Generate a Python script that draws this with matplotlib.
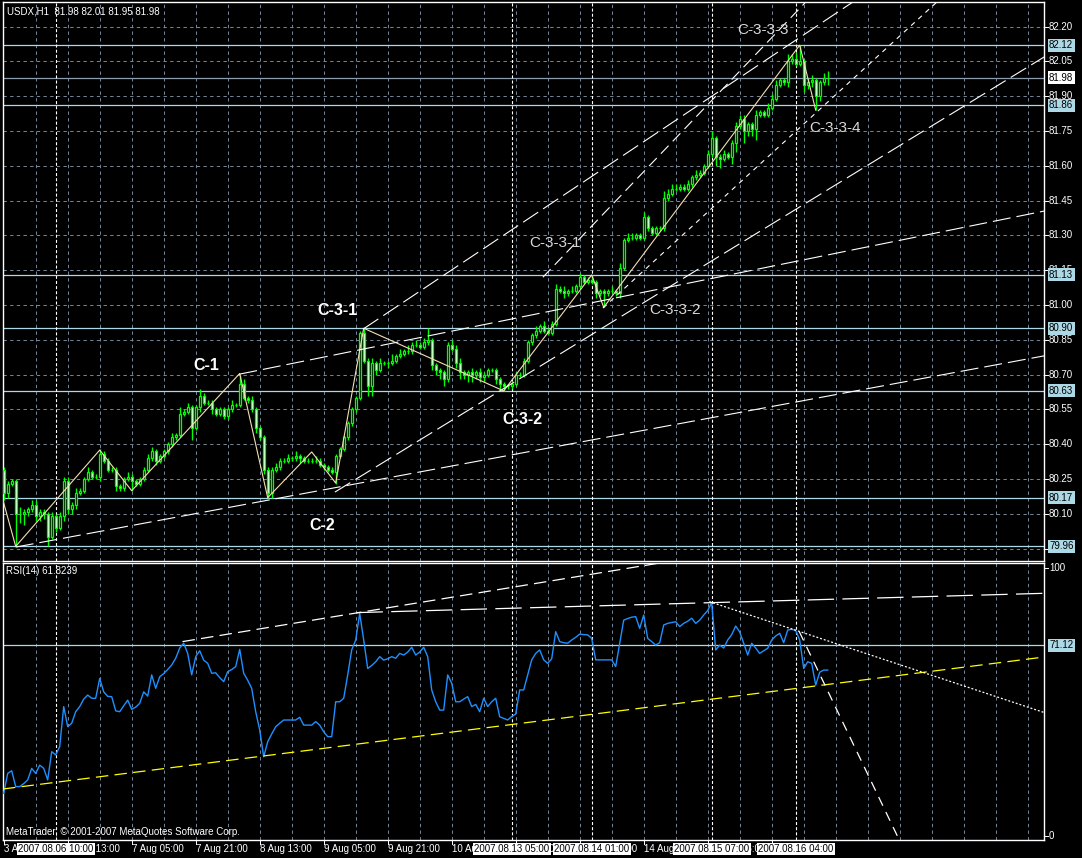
import numpy as np
import matplotlib.pyplot as plt

plt.rcParams['font.family'] = ['Liberation Sans', 'DejaVu Sans']
plt.rcParams['lines.scale_dashes'] = False

# ---------------- data ----------------
first_open = 80.29
closes = [
    80.19, 80.23, 80.24, 80.10, 80.10, 80.11, 80.12, 80.14, 80.09, 80.11,
    80.10, 80.00, 80.09, 80.04, 80.09, 80.24, 80.12, 80.14, 80.19, 80.20,
    80.25, 80.28, 80.26, 80.26, 80.36, 80.33, 80.29, 80.29, 80.22, 80.21,
    80.25, 80.26, 80.24, 80.23, 80.25, 80.29, 80.34, 80.37, 80.33, 80.35,
    80.37, 80.40, 80.43, 80.44, 80.53, 80.54, 80.56, 80.47, 80.56, 80.61,
    80.58, 80.58, 80.55, 80.53, 80.55, 80.52, 80.55, 80.57, 80.57, 80.66,
    80.60, 80.59, 80.55, 80.47, 80.43, 80.29, 80.19, 80.29, 80.30, 80.33,
    80.33, 80.34, 80.34, 80.35, 80.34, 80.33, 80.33, 80.33, 80.33, 80.31,
    80.30, 80.29, 80.28, 80.35, 80.38, 80.43, 80.49, 80.55, 80.60, 80.88,
    80.76, 80.65, 80.75, 80.72, 80.75, 80.75, 80.75, 80.76, 80.78, 80.79,
    80.80, 80.80, 80.83, 80.83, 80.82, 80.84, 80.85, 80.74, 80.72, 80.71,
    80.68, 80.83, 80.81, 80.75, 80.71, 80.70, 80.71, 80.70, 80.71, 80.69,
    80.70, 80.72, 80.72, 80.68, 80.66, 80.65, 80.65, 80.66, 80.70, 80.70,
    80.76, 80.84, 80.87, 80.89, 80.91, 80.89, 80.88, 80.92, 81.07, 81.06,
    81.05, 81.06, 81.06, 81.08, 81.12, 81.10, 81.11, 81.10, 81.05, 81.06,
    81.05, 81.06, 81.06, 81.05, 81.16, 81.28, 81.29, 81.29, 81.30, 81.29,
    81.38, 81.33, 81.31, 81.33, 81.33, 81.46, 81.48, 81.50, 81.50, 81.51,
    81.50, 81.52, 81.55, 81.56, 81.57, 81.60, 81.65, 81.72, 81.64, 81.63,
    81.65, 81.64, 81.70, 81.77, 81.80, 81.75, 81.78, 81.76, 81.82, 81.83,
    81.82, 81.85, 81.89, 81.95, 81.97, 81.96, 82.05, 82.06, 82.04, 82.05,
    81.95, 81.96, 81.97, 81.90, 81.96, 81.98, 81.98]
# wick lengths above / below the body, in 0.01 units
hi_pips = [
    1, 1, 1, 1, 3, 1, 1, 2, 2, 1,   1, 1, 2, 1, 2, 2, 2, 1, 2, 1,
    1, 2, 1, 1, 2, 1, 1, 1, 1, 1,   1, 2, 1, 1, 1, 1, 2, 2, 1, 1,
    1, 1, 2, 1, 3, 1, 2, 1, 1, 3,   1, 1, 1, 1, 1, 1, 1, 2, 1, 4,
    2, 1, 2, 1, 1, 1, 1, 1, 2, 1,   1, 2, 1, 2, 1, 1, 1, 1, 2, 1,
    1, 1, 1, 1, 1, 1, 1, 1, 1, 1,   2, 1, 2, 1, 2, 1, 1, 3, 1, 2,
    1, 3, 1, 2, 1, 2, 5, 1, 1, 1,   1, 1, 2, 2, 2, 1, 1, 2, 1, 2,
    1, 1, 1, 1, 1, 1, 1, 1, 1, 1,   1, 1, 1, 2, 1, 2, 1, 1, 2, 1,
    2, 1, 2, 1, 2, 1, 1, 2, 1, 1,   1, 1, 2, 1, 2, 1, 2, 2, 1, 1,
    2, 1, 1, 1, 1, 3, 2, 2, 2, 1,   1, 2, 1, 2, 1, 1, 2, 3, 1, 1,
    2, 1, 1, 2, 2, 2, 1, 1, 2, 1,   1, 2, 2, 2, 1, 1, 3, 2, 3, 7,
    1, 2, 2, 1, 1, 2, 3]
lo_pips = [
    3, 2, 1, 14, 4, 5, 2, 1, 2, 2,  2, 4, 1, 2, 1, 2, 2, 2, 2, 1,
    1, 1, 1, 1, 2, 1, 1, 1, 2, 1,   1, 1, 4, 1, 1, 1, 1, 1, 2, 1,
    1, 1, 1, 1, 1, 1, 1, 5, 1, 2,   1, 1, 2, 1, 1, 1, 1, 1, 1, 1,
    1, 1, 1, 2, 1, 2, 2, 2, 1, 1,   1, 1, 1, 1, 2, 1, 1, 1, 1, 1,
    1, 1, 1, 5, 1, 1, 1, 1, 1, 1,   1, 4, 4, 2, 1, 1, 2, 1, 1, 1,
    1, 1, 1, 1, 1, 1, 1, 2, 2, 3,   3, 1, 1, 2, 3, 2, 3, 3, 2, 2,
    2, 1, 1, 2, 2, 2, 1, 1, 1, 1,   1, 1, 1, 1, 1, 1, 1, 1, 1, 1,
    2, 1, 1, 1, 1, 1, 1, 1, 2, 1,   6, 1, 1, 1, 2, 1, 1, 1, 1, 1,
    1, 1, 1, 1, 1, 1, 1, 1, 1, 1,   1, 1, 1, 1, 1, 1, 1, 1, 4, 4,
    1, 1, 3, 4, 1, 5, 2, 3, 5, 1,   1, 1, 1, 1, 1, 1, 2, 1, 1, 1,
    3, 2, 2, 6, 2, 1, 3]
rsi = [
    15.9, 23.3, 24.3, 18.4, 18.4, 19.5, 20.9, 25.2, 23.3, 26.4,
    25.2, 20.9, 31.4, 30.2, 33.3, 48.2, 40.7, 42.0, 46.3, 48.2,
    51.0, 52.5, 51.3, 51.3, 58.7, 53.7, 52.0, 51.9, 46.6, 46.3,
    48.5, 50.6, 47.2, 48.0, 49.4, 53.7, 52.1, 60.0, 55.0, 59.3,
    60.5, 62.0, 63.7, 66.2, 70.0, 71.8, 68.0, 60.0, 66.8, 69.0,
    65.5, 64.3, 60.6, 60.8, 59.0, 57.5, 61.2, 62.0, 63.1, 69.5,
    60.6, 58.0, 55.0, 46.3, 39.5, 29.5, 35.1, 38.0, 40.7, 42.0,
    43.2, 43.2, 43.2, 43.2, 44.2, 41.3, 41.3, 41.3, 42.6, 41.3,
    38.8, 37.0, 37.0, 50.0, 50.0, 51.3, 60.0, 69.3, 73.0, 82.9,
    73.0, 62.4, 63.5, 64.9, 66.8, 65.5, 66.0, 66.8, 66.2, 68.0,
    67.4, 68.5, 70.3, 67.4, 68.5, 70.3, 66.8, 54.4, 50.0, 46.9,
    46.9, 60.0, 56.9, 50.0, 50.0, 51.0, 51.9, 48.2, 49.0, 46.3,
    51.3, 48.2, 50.0, 51.3, 44.4, 43.8, 43.2, 44.5, 45.4, 54.4,
    54.4, 60.0, 65.6, 68.0, 69.3, 65.6, 64.3, 66.0, 76.1, 72.4,
    72.0, 71.8, 73.0, 74.0, 75.2, 75.0, 74.9, 73.6, 65.6, 65.6,
    65.6, 65.6, 65.6, 63.1, 71.8, 80.4, 81.0, 81.5, 81.7, 77.3,
    82.3, 73.6, 72.4, 71.1, 72.0, 78.6, 79.2, 79.5, 79.8, 78.0,
    79.2, 80.0, 81.1, 79.2, 80.4, 82.3, 84.0, 86.9, 69.3, 71.1,
    70.0, 73.0, 75.0, 78.2, 76.0, 71.8, 67.4, 71.8, 70.0, 68.0,
    69.0, 69.9, 73.0, 74.5, 75.5, 72.0, 76.7, 77.0, 76.5, 73.0,
    62.4, 64.9, 64.3, 56.2, 61.0, 61.8, 61.8]

zz_bars = [-0.2, 3, 24, 32, 59, 66, 77, 83, 90, 125, 147, 150, 199, 203]
zz_prices = [80.16, 79.96, 80.375, 80.20, 80.705, 80.17, 80.367, 80.233,
             80.90, 80.63, 81.13, 80.99, 82.12, 81.84]

levels = [82.12, 81.86, 81.13, 80.90, 80.63, 80.17, 79.96]
bid = 81.98
price_ticks = [82.20, 82.05, 81.90, 81.75, 81.60, 81.45, 81.30, 81.15,
               81.00, 80.85, 80.70, 80.55, 80.40, 80.25, 80.10, 79.95]

# trend lines: (bar0, price0, bar1, price1)
main_lines = [(3, 79.957, 260.1, 80.781),
              (58.9, 80.702, 260.1, 81.405),
              (82.8, 80.194, 260.1, 82.069),
              (89.9, 80.897, 212.3, 82.306),
              (149.8, 80.987, 233.3, 82.306),
              (134.8, 81.12, 200.3, 82.302)]
rsi_lines = [(-0.2, 17.5, 260.3, 66.7),
             (44.7, 72.4, 164.1, 101.7),
             (88.2, 83.2, 260.3, 90.4),
             (176.4, 87.3, 260.3, 45.9),
             (198.9, 76.1, 223.9, -1.5)]
rsi_level = 71.12

wave_labels = ['C-1', 'C-2', 'C-3-1', 'C-3-2',
               'C-3-3-1', 'C-3-3-2', 'C-3-3-3', 'C-3-3-4']
wave_bars = [50.75, 79.7, 83.45, 129.65, 137.7, 167.8, 189.9, 207.8]
wave_prices = [80.740, 80.050, 80.975, 80.506, 81.268, 80.979, 82.186, 81.762]

date_bars = [0, 16, 32, 48, 64, 80, 96, 112, 128, 144, 160, 176, 192]
date_labels = ['3 Aug 2007', '6 Aug 13:00', '7 Aug 05:00', '7 Aug 21:00',
               '8 Aug 13:00', '9 Aug 05:00', '9 Aug 21:00', '10 Aug 13:00',
               '13 Aug 06:00', '13 Aug 22:00', '14 Aug 14:00',
               '15 Aug 06:00', '15 Aug 22:00']
vline_bars = [13, 127, 147, 177, 198]
vline_labels = ['2007.08.06 10:00', '2007.08.13 05:00', '2007.08.14 01:00',
                '2007.08.15 07:00', '2007.08.16 04:00']

# ---------------- figure ----------------
W, H = 1082, 858
LIME = '#00ff00'
GRID = '#778899'
LEVEL = '#add8e6'
fig = plt.figure(figsize=(W / 100, H / 100), dpi=100, facecolor='black')


def px_axes(x0, y0, x1, y1):
    return fig.add_axes([x0 / W, 1 - y1 / H, (x1 - x0) / W, (y1 - y0) / H])


ax = px_axes(3, 2, 1044, 561)
ax2 = px_axes(3, 563, 1044, 840)
for a in (ax, ax2):
    a.set_facecolor('black')
    a.set_xlim(-0.175, 260.075)
    a.set_xticks([])
    a.set_yticks([])
    for s in a.spines.values():
        s.set_color('white')
        s.set_linewidth(1.0)
    for b in range(8, 261, 8):
        a.axvline(b, color=GRID, lw=0.7, ls=(0, (2.4, 2.4)), zorder=1)
    for b in vline_bars:
        a.axvline(b, color='white', lw=0.8, ls=(0, (2.2, 1.5)), zorder=3)
ax.set_ylim(79.897, 82.306)
ax2.set_ylim(-1.49, 101.68)

for p in price_ticks:
    ax.axhline(p, color=GRID, lw=0.7, ls=(0, (2.4, 2.4)), zorder=1)
for p in levels:
    ax.axhline(p, color=LEVEL, lw=0.9, zorder=2)
ax.axhline(bid, color='#8c9cac', lw=0.9, zorder=2)

# candles
closes = np.array(closes)
bars = np.arange(len(closes))
opens = np.r_[first_open, closes[:-1]]
highs = np.maximum(opens, closes) + np.array(hi_pips) * 0.01
lows = np.minimum(opens, closes) - np.array(lo_pips) * 0.01
ax.vlines(bars, lows, highs, color=LIME, lw=1.0, zorder=4)
fills = ['black' if c >= o else 'white' for o, c in zip(opens, closes)]
ax.bar(bars, closes - opens, bottom=opens, width=0.6, color=fills,
       edgecolor=LIME, linewidth=0.9, zorder=5)

ax.plot(zz_bars, zz_prices, color='#f5deb3', lw=0.8, zorder=6)

main_styles = [(0, (13, 4.3))] * 4 + [(0, (3.5, 3.5)), (0, (8, 4.3))]
for (b0, p0, b1, p1), ls in zip(main_lines, main_styles):
    ax.plot([b0, b1], [p0, p1], color='white', lw=0.8, ls=ls, zorder=6)

for i, (t, b, p) in enumerate(zip(wave_labels, wave_bars, wave_prices)):
    if i < 4:
        ax.text(b, p, t, color='white', fontsize=11.5, fontweight='bold',
                ha='center', va='center', zorder=8, clip_on=False)
    else:
        ax.text(b, p, t, color='#d8d8d8', fontsize=11,
                ha='center', va='center', zorder=8, clip_on=False)

ax.text(4 / 1041, (561 - 11) / 559, 'USDX,H1  81.98 82.01 81.95 81.98',
        transform=ax.transAxes, color='white', fontsize=7, va='center')

# right price scale
ytr = ax.get_yaxis_transform()
for p in price_ticks:
    ax.plot([1, 1 + 4 / 1041], [p, p], transform=ytr, color='white',
            lw=0.7, clip_on=False)
    ax.text(1 + 5 / 1041, p, f'{p:.2f}', transform=ytr, color='white',
            fontsize=7, va='center', ha='left', clip_on=False)
for p in levels:
    ax.text(1 + 5 / 1041, p, f'{p:.2f}', transform=ytr, color='black',
            fontsize=7, va='center', ha='left', clip_on=False, zorder=9,
            bbox=dict(boxstyle='square,pad=0.15', fc=LEVEL, ec='none'))
ax.text(1 + 5 / 1041, bid, f'{bid:.2f}', transform=ytr, color='black',
        fontsize=7, va='center', ha='left', clip_on=False, zorder=9,
        bbox=dict(boxstyle='square,pad=0.15', fc='white', ec='none'))

# RSI panel
ax2.axhline(rsi_level, color=LEVEL, lw=0.9, zorder=2)
ax2.plot(np.arange(len(rsi)), rsi, color='#1e90ff', lw=1.0, zorder=5)
rsi_styles = [(0, (9, 4.5)), (0, (9, 4.5)), (0, (19, 6)), (0, (1.4, 1.4)),
              (0, (7, 5))]
rsi_colors = ['yellow', 'white', 'white', 'white', 'white']
for (b0, r0, b1, r1), ls, c in zip(rsi_lines, rsi_styles, rsi_colors):
    ax2.plot([b0, b1], [r0, r1], color=c, lw=0.9, ls=ls, zorder=6)

ax2.text(3 / 1041, (840 - 571) / 277, 'RSI(14) 61.8239', transform=ax2.transAxes,
         color='white', fontsize=7, va='center')
ax2.text(3 / 1041, (840 - 832) / 277,
         'MetaTrader, \u00a9 2001-2007 MetaQuotes Software Corp.',
         transform=ax2.transAxes, color='white', fontsize=7, va='center')

ytr2 = ax2.get_yaxis_transform()
for r in (100, 0):
    ax2.plot([1, 1 + 4 / 1041], [r, r], transform=ytr2, color='white',
             lw=0.7, clip_on=False)
    ax2.text(1 + 5 / 1041, r, str(r), transform=ytr2, color='white',
             fontsize=7, va='center', ha='left', clip_on=False)
ax2.text(1 + 5 / 1041, rsi_level, f'{rsi_level:.2f}', transform=ytr2,
         color='black', fontsize=7, va='center', ha='left', clip_on=False,
         bbox=dict(boxstyle='square,pad=0.15', fc=LEVEL, ec='none'))

# time scale
xtr = ax2.get_xaxis_transform()
yl = -9 / 277
for b, t in zip(date_bars, date_labels):
    ax2.plot([b, b], [0, -4 / 277], transform=xtr, color='white', lw=0.7,
             clip_on=False)
    ax2.text(b, yl, t, transform=xtr, color='white', fontsize=7,
             ha='left', va='center', clip_on=False)
for b, t in zip(vline_bars, vline_labels):
    ax2.text(b, yl, t, transform=xtr, color='black', fontsize=7,
             ha='center', va='center', clip_on=False, zorder=9,
             bbox=dict(boxstyle='square,pad=0.15', fc='white', ec='none'))

fig.savefig('out.png', dpi=100, facecolor='black')
